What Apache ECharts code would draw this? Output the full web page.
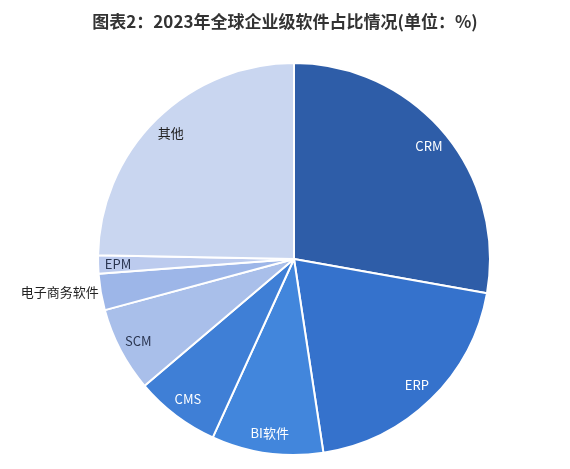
<!DOCTYPE html>
<html>
<head>
<meta charset="utf-8">
<script src="https://cdn.jsdelivr.net/npm/echarts@6/dist/echarts.min.js"></script>
<style>html,body{margin:0;padding:0;background:#fff;}#main{width:570px;height:469px;}</style>
</head>
<body>
<div id="main"></div>
<script>
var names = ['CRM', 'ERP', 'BI软件', 'CMS', 'SCM', '电子商务软件', 'EPM', '其他'];
var values = [27.8, 19.8, 9.2, 7, 7, 3, 1.5, 24.7];
var colors = ['#2e5da8', '#3572cc', '#4286dc', '#3f7fd6', '#a9bfea', '#9db6e8', '#bccbee', '#c9d6f0'];
var labelColors = ['#fff', '#fff', '#fff', '#fff', '#2a3550', '#222', '#2a3550', '#222'];

var chart = echarts.init(document.getElementById('main'));

var pieData = [];
var labelData = [];
for (var i = 0; i < names.length; i++) {
    pieData.push({name: names[i], value: values[i], itemStyle: {color: colors[i]}});
    var lbl = {name: names[i], value: values[i], label: {color: labelColors[i]}};
    if (names[i] == '电子商务软件') {
        lbl.label = {position: 'outside', color: '#222', fontSize: 13, distanceToLabelLine: 0};
        lbl.labelLine = {show: true, length: 2, length2: 0, lineStyle: {opacity: 0}};
    }
    labelData.push(lbl);
}

chart.setOption({
    animation: false,
    title: {
        text: '图表2：2023年全球企业级软件占比情况(单位：%)',
        left: 'center',
        top: 8,
        textStyle: {fontSize: 17, fontWeight: 'bold', color: '#333', fontFamily: 'Noto Sans CJK SC'}
    },
    series: [{
        type: 'pie',
        center: [294, 259],
        radius: [0, 196],
        startAngle: 90,
        clockwise: true,
        label: {show: false},
        labelLine: {show: false},
        itemStyle: {borderColor: '#fff', borderWidth: 2},
        data: pieData
    }, {
        type: 'pie',
        center: [294, 259],
        radius: [150, 196],
        startAngle: 90,
        clockwise: true,
        silent: true,
        itemStyle: {color: 'rgba(0,0,0,0)'},
        label: {position: 'inside', fontSize: 13, fontFamily: 'Noto Sans CJK SC'},
        labelLine: {show: false},
        data: labelData
    }]
});
</script>
</body>
</html>
